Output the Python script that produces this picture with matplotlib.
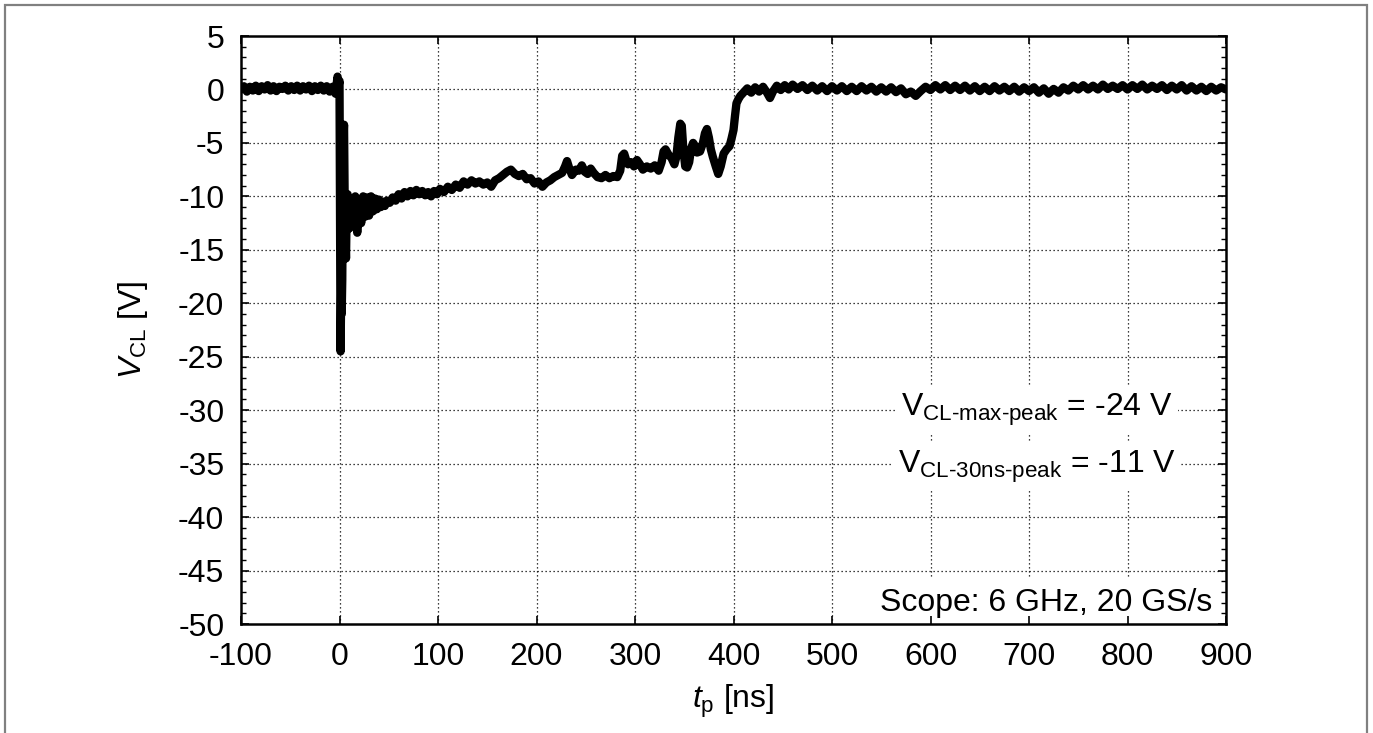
#!/usr/bin/env python3
"""Clamp voltage V_CL vs. pulse time t_p, scope capture (6 GHz, 20 GS/s)."""

import matplotlib
matplotlib.use("Agg")
import matplotlib.pyplot as plt
from matplotlib.patches import Rectangle
from matplotlib.ticker import MultipleLocator

# --- trace (t in ns, V in volts) -----------------------------------------
T_PRE = [-100, -97, -94, -91, -88, -85, -82, -79, -76, -73, -70, -67, -64,
         -61, -58, -55, -52, -49, -46, -43, -40, -37, -34, -31, -28, -25,
         -22, -19, -16, -13, -10, -7, -4, -2, -1]
V_PRE = [0.0, 0.3, -0.2, 0.25, -0.1, 0.35, -0.15, 0.3, 0.0, 0.4, -0.1, 0.3,
         -0.15, 0.25, 0.05, 0.35, -0.1, 0.3, -0.05, 0.35, -0.1, 0.3, 0.0,
         0.35, -0.15, 0.3, -0.05, 0.35, -0.1, 0.3, -0.2, 0.25, -0.4, 1.2, 0.3]

T_STEP = [0.0, 0.6, 1.1, 1.7, 2.2, 2.8, 3.4, 4.0, 4.6, 5.2, 5.9, 6.6, 7.3,
          8.2]
V_STEP = [0.8, -12.0, -24.5, -19.0, -21.0, -17.8, -9.0, -4.5, -3.3, -10.0,
          -13.5, -15.8, -11.0, -9.8]

T_RING = [10, 12, 14, 16, 18, 20, 22, 24, 26, 28, 30, 32, 34, 36, 38, 40,
          42, 44, 46, 48, 51, 54, 57, 60, 63, 66, 69, 72, 75, 78, 81, 84,
          87, 90, 93, 96, 99]
V_RING = [-13.0, -10.2, -12.2, -10.0, -13.4, -10.4, -12.5, -10.0, -11.9,
          -10.1, -11.8, -10.0, -11.4, -10.2, -11.2, -10.3, -11.0, -10.5,
          -10.9, -10.4, -10.6, -10.1, -10.4, -9.8, -10.2, -9.6, -10.0, -9.5,
          -9.9, -9.4, -9.8, -9.5, -9.9, -9.6, -10.0, -9.5, -9.8]

T_PLATEAU = [102, 106, 110, 114, 118, 122, 126, 130, 134, 138, 142, 146,
             150, 154, 158, 162, 166, 170, 174, 178, 182, 186, 190, 194,
             198, 202, 206, 210, 214, 218, 222, 226, 229, 231, 233, 236,
             240, 243, 246, 249, 252, 255, 258, 262, 266, 270, 274, 278,
             282, 285, 287, 289, 291, 293, 296, 299, 302, 305, 308, 312,
             316, 320, 324, 327, 329, 331, 334, 337, 340, 342, 344, 346,
             347.5, 349, 351, 353, 355, 357, 359, 361, 363, 366, 369, 371,
             373, 375, 377, 379, 382, 384.5, 387, 390, 393, 396, 398, 400,
             401.5, 403, 405, 407, 410]
V_PLATEAU = [-9.3, -9.6, -9.1, -9.4, -8.9, -9.2, -8.6, -8.9, -8.5, -8.8,
             -8.6, -8.9, -8.7, -9.1, -8.5, -8.3, -8.0, -7.7, -7.5, -7.9,
             -8.1, -7.9, -8.4, -8.3, -8.8, -8.6, -9.1, -8.7, -8.5, -8.2,
             -8.0, -7.8, -7.2, -6.7, -7.3, -8.0, -7.5, -7.6, -7.1, -7.7,
             -7.9, -7.4, -7.8, -8.2, -8.3, -8.0, -8.3, -8.1, -8.2, -7.6,
             -6.2, -6.0, -6.6, -7.0, -6.8, -7.2, -6.6, -7.0, -7.5, -7.2,
             -7.4, -7.1, -7.6, -6.8, -5.8, -5.6, -6.1, -6.4, -7.0, -6.3,
             -4.5, -3.2, -3.4, -5.5, -7.2, -7.3, -6.8, -5.5, -5.0, -5.3,
             -5.9, -5.8, -5.0, -4.1, -3.7, -4.5, -5.6, -6.3, -7.2, -7.9,
             -7.2, -6.0, -5.6, -5.3, -4.6, -3.8, -2.5, -1.3, -0.9, -0.6,
             -0.3]

T_POST = [414, 418, 422, 426, 430, 434, 437, 440, 444, 448, 452, 456, 460,
          465, 470, 475, 480, 485, 490, 495, 500, 505, 510, 515, 520, 525,
          530, 535, 540, 545, 550, 555, 560, 565, 570, 575, 580, 585, 590,
          595, 600, 605, 610, 615, 620, 625, 630, 635, 640, 645, 650, 655,
          660, 665, 670, 675, 680, 685, 690, 695, 700, 705, 710, 715, 720,
          725, 730, 735, 740, 745, 750, 755, 760, 765, 770, 775, 780, 785,
          790, 795, 800, 805, 810, 815, 820, 825, 830, 835, 840, 845, 850,
          855, 860, 865, 870, 875, 880, 885, 890, 895, 900]
V_POST = [0.1, -0.3, 0.2, -0.2, 0.25, -0.3, -0.8, -0.2, 0.35, -0.05, 0.4,
          0.0, 0.45, 0.05, 0.4, -0.05, 0.35, -0.1, 0.3, -0.15, 0.3, -0.1,
          0.3, -0.15, 0.25, -0.15, 0.3, -0.1, 0.25, -0.2, 0.2, -0.2, 0.2,
          -0.25, 0.1, -0.45, -0.2, -0.6, -0.15, 0.25, -0.05, 0.4, 0.0, 0.4,
          -0.05, 0.35, -0.05, 0.35, -0.1, 0.3, -0.15, 0.25, -0.15, 0.3,
          -0.1, 0.25, -0.15, 0.25, -0.2, 0.2, -0.15, 0.2, -0.3, 0.1, -0.4,
          0.05, -0.3, 0.2, -0.1, 0.35, 0.0, 0.4, 0.0, 0.35, 0.0, 0.45, 0.05,
          0.35, 0.05, 0.4, 0.0, 0.4, 0.05, 0.45, 0.0, 0.35, 0.05, 0.4, -0.05,
          0.35, 0.0, 0.4, -0.1, 0.3, -0.1, 0.25, -0.15, 0.25, -0.1, 0.2, 0.0]

XTICKS = [-100, 0, 100, 200, 300, 400, 500, 600, 700, 800, 900]
YTICKS = [5, 0, -5, -10, -15, -20, -25, -30, -35, -40, -45, -50]

NOTE_MAX = r"V$_{\mathrm{CL\text{-}max\text{-}peak}}$ = -24 V"
NOTE_30NS = r"V$_{\mathrm{CL\text{-}30ns\text{-}peak}}$ = -11 V"
NOTE_SCOPE = "Scope: 6 GHz, 20 GS/s"

FONT = "Liberation Sans"
GRID_STYLE = dict(color="black", linestyle=(0, (1, 2.2)), linewidth=0.9,
                  zorder=1)


def setup():
    plt.rcParams["font.family"] = [FONT, "DejaVu Sans"]
    plt.rcParams["mathtext.fontset"] = "custom"
    plt.rcParams["mathtext.rm"] = FONT
    plt.rcParams["mathtext.it"] = f"{FONT}:italic"
    plt.rcParams["mathtext.bf"] = f"{FONT}:bold"
    plt.rcParams["font.size"] = 23
    plt.rcParams["axes.linewidth"] = 1.8
    plt.rcParams["axes.unicode_minus"] = False


def main():
    setup()
    fig = plt.figure(figsize=(13.73, 7.33), dpi=100)

    # grey frame round the whole picture (bottom edge sits off-canvas)
    fig.patches.append(Rectangle((5 / 1373, -0.02), 1362 / 1373, 1.02 - 5 / 733,
                                 transform=fig.transFigure, fill=False,
                                 edgecolor="#808080", linewidth=1.6))

    ax = fig.add_axes([241 / 1373, 1 - 624 / 733, 985 / 1373, 588 / 733])

    # grid drawn by hand so the note boxes can sit between grid and ticks
    for x in XTICKS[1:-1]:
        ax.axvline(x, **GRID_STYLE)
    for y in YTICKS[1:-1]:
        ax.axhline(y, **GRID_STYLE)

    t = T_PRE + T_STEP + T_RING + T_PLATEAU + T_POST
    v = V_PRE + V_STEP + V_RING + V_PLATEAU + V_POST
    ax.plot(t, v, color="black", lw=6.0, solid_joinstyle="round",
            solid_capstyle="round", zorder=3)

    ax.set_xlim(-100, 900)
    ax.set_ylim(-50, 5)
    ax.set_xticks(XTICKS)
    ax.set_yticks(YTICKS)
    ax.yaxis.set_minor_locator(MultipleLocator(1))
    ax.tick_params(which="both", direction="in", top=True, right=True)
    ax.tick_params(which="major", length=6, width=1.2)
    ax.tick_params(axis="y", which="major", pad=12)
    ax.tick_params(axis="x", which="major", pad=13)
    ax.tick_params(which="minor", length=3.5, width=1.0)
    ax.xaxis.set_zorder(5)
    ax.yaxis.set_zorder(5)
    for sp in ax.spines.values():
        sp.set_zorder(6)

    ax.set_xlabel(r"$t_{\mathrm{p}}$ [ns]", labelpad=8)
    ax.set_ylabel(r"$V_{\mathrm{CL}}$ [V]", labelpad=20)

    box = dict(facecolor="white", edgecolor="none", pad=4)
    ax.text(708, -30.0, NOTE_MAX, ha="center", va="center", bbox=box,
            zorder=4)
    ax.text(708, -35.3, NOTE_30NS, ha="center", va="center", bbox=box,
            zorder=4)
    ax.text(886, -48.0, NOTE_SCOPE, ha="right", va="center",
            bbox=dict(facecolor="white", edgecolor="none", pad=7), zorder=4)

    fig.savefig("out.png", dpi=100)
    plt.close(fig)


if __name__ == "__main__":
    main()
